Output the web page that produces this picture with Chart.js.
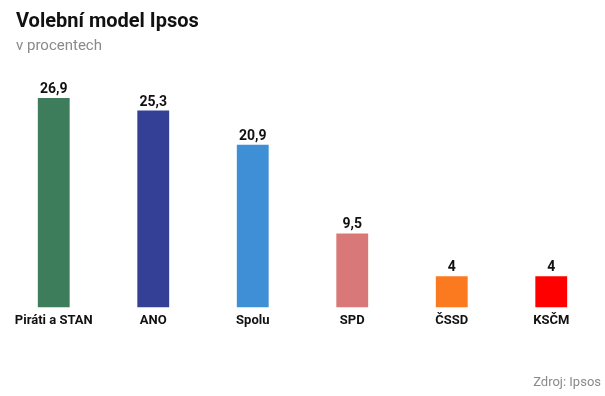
<!DOCTYPE html>
<html>
<head>
<meta charset="utf-8">
<script src="https://cdn.jsdelivr.net/npm/chart.js@4/dist/chart.umd.min.js"></script>
<style>
html,body{margin:0;padding:0;background:#fff;}
#wrap{width:605px;height:396px;position:relative;}
</style>
</head>
<body>
<div id="wrap"><canvas id="c" width="605" height="396"></canvas></div>
<script>
const categories = ["Piráti a STAN", "ANO", "Spolu", "SPD", "ČSSD", "KSČM"];
const values = [26.9, 25.3, 20.9, 9.5, 4, 4];
const valueLabels = ["26,9", "25,3", "20,9", "9,5", "4", "4"];
const barColors = ["#3e7d5c", "#334095", "#3f8fd6", "#d97878", "#fb7a20", "#fe0000"];
const titleText = "Volební model Ipsos";
const subtitleText = "v procentech";
const sourceText = "Zdroj: Ipsos";

const FONT = "Roboto, 'Liberation Sans', sans-serif";

const decor = {
  id: 'decor',
  afterDraw(chart) {
    const ctx = chart.ctx;
    ctx.save();
    ctx.textBaseline = 'alphabetic';
    ctx.fillStyle = '#111';
    ctx.font = "bold 20px " + FONT;
    ctx.textAlign = 'left';
    ctx.fillText(titleText, 16, 27);
    ctx.fillStyle = '#8a8a8a';
    ctx.font = "15px " + FONT;
    ctx.fillText(subtitleText, 16, 50);
    ctx.font = "13px " + FONT;
    ctx.textAlign = 'right';
    ctx.fillText(sourceText, 601, 386);
    const meta = chart.getDatasetMeta(0);
    ctx.fillStyle = '#111';
    ctx.font = "bold 14px " + FONT;
    ctx.textAlign = 'center';
    meta.data.forEach((bar, i) => {
      ctx.fillText(valueLabels[i], bar.x, bar.y - 5);
    });
    ctx.restore();
  }
};

new Chart(document.getElementById('c'), {
  type: 'bar',
  data: {
    labels: categories,
    datasets: [{
      data: values,
      backgroundColor: barColors,
      borderWidth: 0,
      barPercentage: 0.32,
      categoryPercentage: 1.0
    }]
  },
  options: {
    responsive: false,
    animation: false,
    layout: { padding: { top: 74, left: 4, right: 4, bottom: 61 } },
    plugins: { legend: { display: false }, tooltip: { enabled: false } },
    scales: {
      x: {
        grid: { display: false, drawTicks: false },
        border: { display: false },
        ticks: { color: '#111', font: { family: FONT, size: 13, weight: 'bold' }, padding: 6, maxRotation: 0, autoSkip: false }
      },
      y: {
        display: false,
        min: 0,
        max: 30
      }
    }
  },
  plugins: [decor]
});
</script>
</body>
</html>
